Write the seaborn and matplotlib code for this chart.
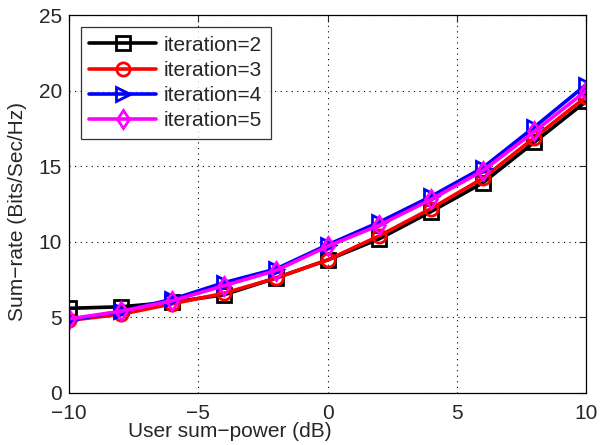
import numpy as np
import pandas as pd
import matplotlib
matplotlib.use("Agg")
import matplotlib.pyplot as plt
import seaborn as sns

# data
power_db = [-10, -8, -6, -4, -2, 0, 2, 4, 6, 8, 10]
iter2 = [5.6, 5.7, 6.0, 6.5, 7.6, 8.8, 10.2, 12.0, 13.9, 16.6, 19.3]
iter3 = [4.8, 5.2, 5.9, 6.6, 7.6, 8.8, 10.4, 12.2, 14.2, 16.9, 19.6]
iter4 = [4.8, 5.4, 6.2, 7.3, 8.2, 9.8, 11.3, 13.0, 14.9, 17.6, 20.4]
iter5 = [4.9, 5.4, 6.1, 7.1, 8.1, 9.7, 11.1, 12.8, 14.7, 17.3, 20.0]

labels = ["iteration=2", "iteration=3", "iteration=4", "iteration=5"]
colors = ["black", "red", "blue", "magenta"]
markers = ["s", "o", ">", "d"]

df = pd.DataFrame({
    "power": power_db * 4,
    "rate": iter2 + iter3 + iter4 + iter5,
    "series": np.repeat(labels, len(power_db)),
})

sns.set_style("white")
plt.rcParams["font.family"] = ["Liberation Sans", "DejaVu Sans"]

fig = plt.figure(figsize=(6, 4.45), dpi=100)
ax = fig.add_axes([0.115, 0.117, 0.862, 0.849])

for lab, col, mk in zip(labels, colors, markers):
    sns.lineplot(data=df[df["series"] == lab], x="power", y="rate", ax=ax,
                 color=col, marker=mk, markersize=9.5, markerfacecolor="none",
                 markeredgecolor=col, markeredgewidth=2, linewidth=2.6,
                 label=lab)

ax.set_xlim(-10, 10)
ax.set_ylim(0, 25)
ax.set_xticks([-10, -5, 0, 5, 10])
ax.set_yticks([0, 5, 10, 15, 20, 25])
ax.set_xticklabels(["\u221210", "\u22125", "0", "5", "10"])
ax.grid(True, color="black", linestyle=(0, (1, 4)), linewidth=0.8)
ax.tick_params(direction="in", top=True, right=True, labelsize=15, length=5,
               width=0.8)
ax.tick_params(axis="x", pad=8)
ax.tick_params(axis="y", pad=5)
for s in ax.spines.values():
    s.set_color("black")
    s.set_linewidth(0.9)

ax.set_xlabel("User sum\u2212power (dB)", fontsize=15)
ax.set_ylabel("Sum\u2212rate (Bits/Sec/Hz)", fontsize=15)
ax.xaxis.set_label_coords(0.311, -0.078)
ax.yaxis.set_label_coords(-0.081, 0.481)

leg = ax.legend(loc="upper left", fontsize=15, frameon=True, fancybox=False,
                edgecolor="black", handlelength=3.2, handletextpad=0.38,
                borderaxespad=0.58, labelspacing=0.3, borderpad=0.4)
leg.get_frame().set_linewidth(0.9)

plt.savefig("out.png", dpi=100)
plt.close()
